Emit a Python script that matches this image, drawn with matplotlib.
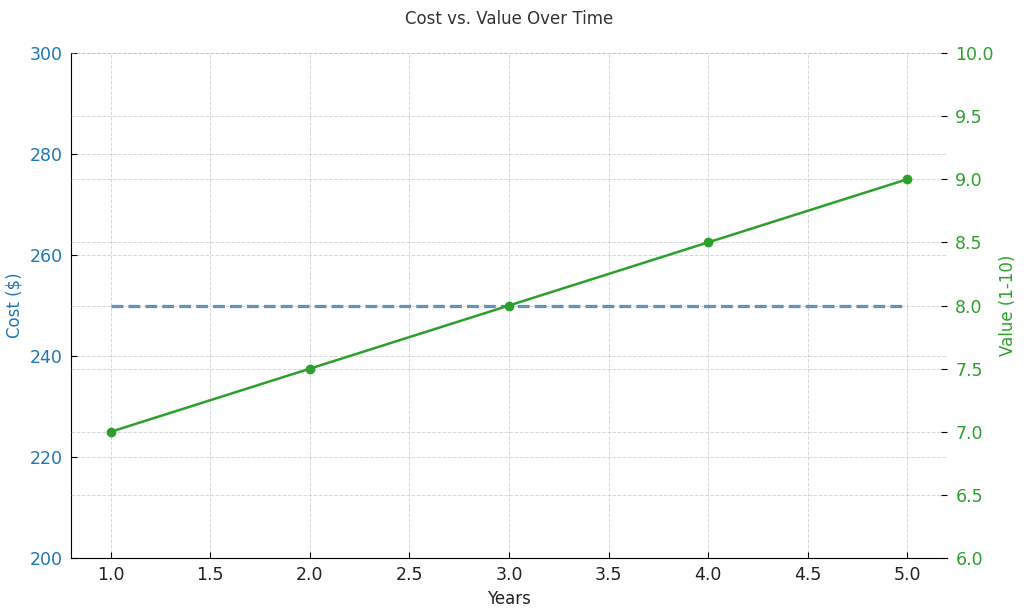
import matplotlib
matplotlib.use("Agg")
import matplotlib.pyplot as plt

plt.rcParams['font.family'] = ['DejaVu Sans']

years = [1, 2, 3, 4, 5]
cost = [250, 250, 250, 250, 250]
value = [7.0, 7.5, 8.0, 8.5, 9.0]

blue = '#1f77b4'
green = '#2ca02c'

fig, ax1 = plt.subplots(figsize=(10.24, 6.13), dpi=100)
fig.subplots_adjust(left=0.0693, right=0.9248, top=0.9135, bottom=0.0897)

ax1.plot(years, cost, linestyle='--', color=blue, linewidth=2.3, alpha=0.8)
ax1.set_ylim(200, 300)
ax1.set_xlim(0.8, 5.2)
ax1.set_xlabel('Years', fontsize=12, color='#222222', labelpad=4)
ax1.set_ylabel('Cost ($)', fontsize=12, color=blue, labelpad=4)
ax1.tick_params(axis='both', direction='in', length=4, pad=6)
ax1.tick_params(axis='y', labelcolor=blue, labelsize=12.5)
ax1.tick_params(axis='x', labelsize=12.5, labelcolor='#222222')
ax1.grid(True, linestyle='--', color='#b0b0b0', alpha=0.5, linewidth=0.7)

ax2 = ax1.twinx()
ax2.plot(years, value, marker='o', color=green, linewidth=1.8, markersize=6)
ax2.set_ylim(6, 10)
ax2.set_ylabel('Value (1-10)', fontsize=12, color=green, labelpad=4)
ax2.tick_params(axis='y', direction='in', length=4, pad=6, labelcolor=green, labelsize=12.5)
ax2.grid(True, linestyle='--', color='#b0b0b0', alpha=0.5, linewidth=0.7)

for a in (ax1, ax2):
    a.spines['top'].set_visible(False)
    a.spines['right'].set_visible(False)
ax2.spines['left'].set_visible(False)
ax2.spines['bottom'].set_visible(False)

ax1.set_title('Cost vs. Value Over Time', fontsize=12, color='#333333', pad=21)

fig.savefig('out.png', dpi=100)
